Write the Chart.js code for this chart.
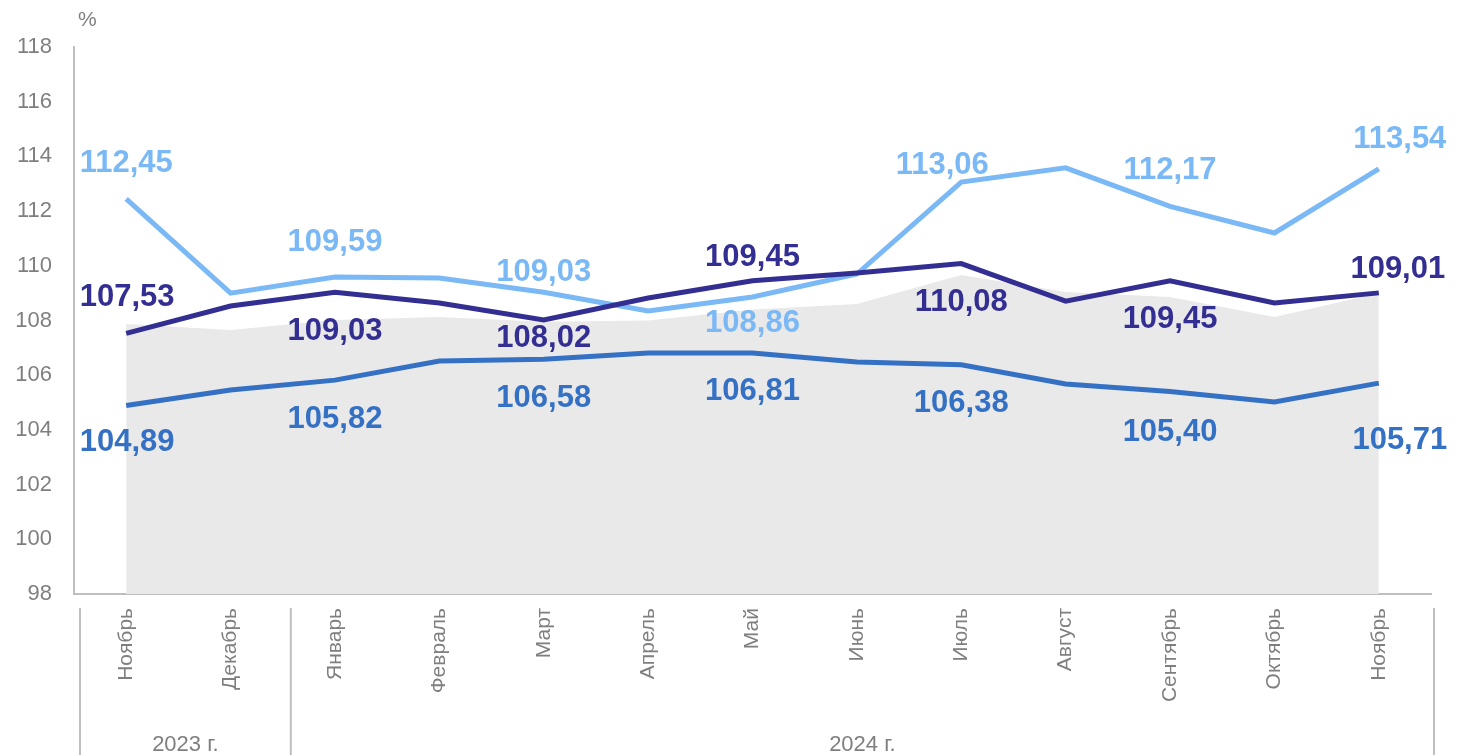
<!DOCTYPE html>
<html>
<head>
<meta charset="utf-8">
<script src="https://cdn.jsdelivr.net/npm/chart.js@4/dist/chart.umd.min.js"></script>
<style>
  html, body { margin: 0; padding: 0; background: #fff; }
  #wrap { width: 1458px; height: 755px; position: relative; }
</style>
</head>
<body>
<div id="wrap"><canvas id="chart"></canvas></div>
<script>
const categories = ["Ноябрь", "Декабрь", "Январь", "Февраль", "Март", "Апрель", "Май", "Июнь", "Июль", "Август", "Сентябрь", "Октябрь", "Ноябрь"];
const groupLabels = ["2023 г.", "2024 г."];
const groupSizes = [2, 11];
const yTicks = [98, 100, 102, 104, 106, 108, 110, 112, 114, 116, 118];

const lightSeries = [112.45, 109.0, 109.59, 109.55, 109.03, 108.35, 108.86, 109.7, 113.06, 113.58, 112.17, 111.2, 113.54];
const navySeries = [107.53, 108.53, 109.03, 108.64, 108.02, 108.82, 109.45, 109.74, 110.08, 108.71, 109.45, 108.64, 109.01];
const blueSeries = [104.89, 105.46, 105.82, 106.52, 106.58, 106.81, 106.81, 106.48, 106.38, 105.68, 105.40, 105.02, 105.71];
const areaSeries = [107.87, 107.65, 108.02, 108.13, 107.95, 108.0, 108.4, 108.6, 109.66, 109.04, 108.86, 108.13, 109.0];

const FONT = "'Liberation Sans', Arial, sans-serif";
const GREY = "#7f7f7f";
const AXIS = "#bfbfbf";

// label placement: [index, dx, dy] relative to the point
const labelSpots = {
  light: [[0, 0, -35], [2, 0, -35], [4, 0, -20], [6, 0, 26], [8, -19, -17], [10, 0, -36], [12, 21, -30]],
  navy: [[0, 1, -36], [2, 0, 39], [4, 0, 19], [6, 0, -23], [8, 0, 39], [10, 0, 39], [12, 19, -23]],
  blue: [[0, 1, 37], [2, 0, 39], [4, 0, 39], [6, 0, 38], [8, 0, 39], [10, 0, 41], [12, 21, 57]],
};

const valueLabels = {
  id: "valueLabels",
  afterDatasetsDraw(chart) {
    const ctx = chart.ctx;
    ctx.save();
    ctx.font = "bold 31px " + FONT;
    ctx.textAlign = "center";
    ctx.textBaseline = "middle";
    chart.data.datasets.forEach((ds, di) => {
      if (!ds.spots) return;
      const meta = chart.getDatasetMeta(di);
      ctx.fillStyle = ds.borderColor;
      ds.spots.forEach(([i, dx, dy]) => {
        const p = meta.data[i];
        ctx.fillText(ds.data[i].toFixed(2).replace(".", ","), p.x + dx, p.y + dy);
      });
    });
    ctx.restore();
  },
};

const groupAxis = {
  id: "groupAxis",
  afterDraw(chart) {
    const ctx = chart.ctx;
    const x = chart.scales.x;
    const area = chart.chartArea;
    ctx.save();
    // "%" unit
    ctx.fillStyle = GREY;
    ctx.font = "21px " + FONT;
    ctx.textAlign = "left";
    ctx.textBaseline = "middle";
    ctx.fillText("%", area.left + 4, area.top - 27);

    ctx.strokeStyle = AXIS;
    ctx.lineWidth = 2;
    let start = 0;
    const edges = [x.getPixelForValue(-0.5) + 6];
    groupSizes.forEach((n, gi) => {
      const end = start + n;
      const last = gi === groupSizes.length - 1;
      edges.push(x.getPixelForValue(end - 0.5) + (last ? 3 : 8));
      start = end;
    });
    edges.forEach(px => {
      ctx.beginPath();
      ctx.moveTo(px, area.bottom + 14);
      ctx.lineTo(px, chart.height);
      ctx.stroke();
    });
    ctx.font = "22px " + FONT;
    ctx.textAlign = "center";
    groupLabels.forEach((g, i) => {
      ctx.fillText(g, (edges[i] + edges[i + 1]) / 2, chart.height - 10);
    });
    ctx.restore();
  },
};

new Chart(document.getElementById("chart"), {
  type: "line",
  data: {
    labels: categories,
    datasets: [
      { data: blueSeries, borderColor: "#3471c4", borderWidth: 5, pointRadius: 0, tension: 0, spots: labelSpots.blue },
      { data: navySeries, borderColor: "#332e91", borderWidth: 5, pointRadius: 0, tension: 0, spots: labelSpots.navy },
      { data: lightSeries, borderColor: "#7ab8f6", borderWidth: 5, pointRadius: 0, tension: 0, spots: labelSpots.light },
      { data: areaSeries, borderWidth: 0, borderColor: "rgba(0,0,0,0)", backgroundColor: "#e9e9e9", fill: "start", pointRadius: 0, tension: 0 },
    ],
  },
  options: {
    responsive: true,
    maintainAspectRatio: false,
    animation: false,
    layout: { padding: { top: 47, right: 27, left: 0, bottom: 0 } },
    plugins: { legend: { display: false }, tooltip: { enabled: false } },
    scales: {
      y: {
        min: 98,
        max: 118,
        afterBuildTicks: s => { s.ticks = yTicks.map(v => ({ value: v })); },
        afterFit: s => { s.width = 74; },
        grid: { display: false, drawTicks: false },
        border: { display: true, color: AXIS, width: 2 },
        ticks: { color: GREY, font: { family: FONT, size: 22 }, padding: 22 },
      },
      x: {
        offset: true,
        afterFit: s => { s.height = 161; },
        grid: { display: false, drawTicks: false },
        border: { display: true, color: AXIS, width: 2 },
        ticks: { color: GREY, font: { family: FONT, size: 21 }, minRotation: 90, maxRotation: 90, padding: 14, autoSkip: false },
      },
    },
  },
  plugins: [valueLabels, groupAxis],
});
</script>
</body>
</html>
